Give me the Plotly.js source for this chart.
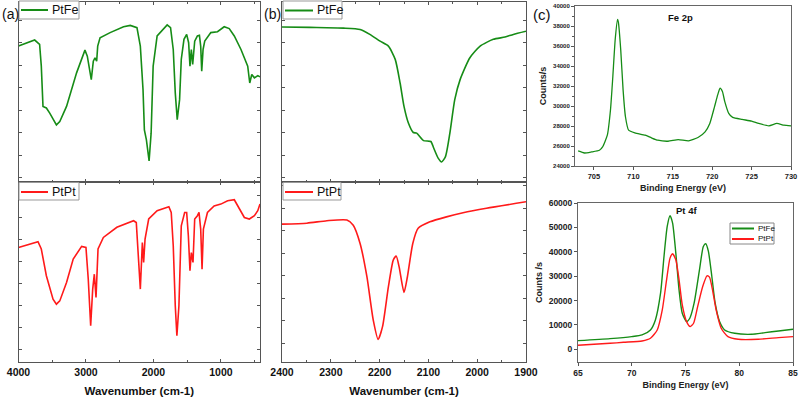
<!DOCTYPE html>
<html><head><meta charset="utf-8">
<script src="https://cdn.plot.ly/plotly-3.0.1.min.js"></script>
<style>html,body{margin:0;padding:0;background:#fff}#chart{width:800px;height:401px}</style>
</head><body><div id="chart"></div><script>
// (a) FTIR full range
const aWn_PtFe = [4000,3786,3760,3687,3662,3637,3587,3537,3438,3388,3288,3139,3015,2980,2950,2921,2891,2866,2841,2826,2791,2642,2443,2343,2244,2194,2154,2134,2104,2064,2034,2004,1945,1796,1746,1706,1676,1647,1612,1587,1547,1507,1478,1458,1438,1418,1388,1348,1318,1299,1284,1264,1239,1149,1050,951,876,801,702,602,572,542,503,453,420];
const aT_PtFe = [58.4,60.6,61.1,59.2,49.5,31.6,30.9,28.6,23.4,24.9,31.6,46.5,56.6,53.9,48,43.5,51.7,53.2,51.7,58.4,62.1,64.4,67,67.6,66.6,58.4,39,21.2,16.7,7.4,19.7,49.5,62.9,67.8,66.6,56.9,37.6,25.7,34.6,52.5,61.4,63.6,59.9,49.5,56.9,50.2,60.6,62.9,63.2,58.4,47.2,56.9,60.6,64.4,64.8,67,66.2,62.9,56.9,49.5,42,45.8,44.3,45.3,44.7];
const aWn_PtPt = [4000,3711,3662,3587,3488,3438,3388,3288,3189,3064,3000,2966,2930,2900,2876,2851,2821,2742,2542,2294,2254,2224,2194,2164,2145,2124,2070,1945,1771,1736,1706,1676,1652,1622,1587,1537,1507,1482,1458,1438,1413,1388,1348,1324,1299,1279,1259,1199,1100,1000,900,801,727,652,578,503,453,420];
const aT_PtPt = [46.4,49,45.7,33.5,22.8,20.5,22,30.4,41.1,46.9,46.4,32,10.7,27.4,34.2,23.6,45.7,51,55.6,58.6,57.8,42.6,27.4,48.7,39.6,50.2,59.4,63.2,65,62.4,47.2,19.8,6.1,19.8,56.3,62.4,62.4,51.7,35.8,44.1,39.6,59.4,60.9,62.4,54.8,36.5,54.8,62.4,65.4,66.2,67.7,68.2,63.9,60.1,59.4,60.9,63.2,66.2];
// (b) FTIR CO region
const bWn_PtFe = [2400,2343,2274,2240,2220,2199,2182,2168,2158,2150,2141,2131,2124,2110,2095,2089,2080,2073,2065,2056,2046,2035,2015,1994,1967,1943,1926,1900];
const bT_PtFe = [66.9,66.7,66.4,65.8,63.6,60.6,58.4,52.5,42,31.6,24.2,20,19.7,16.4,16,13,8.6,6.9,9.3,19.7,34.6,43.5,53.2,58.4,61.4,62.4,63.6,65];
const bWn_PtPt = [2400,2349,2308,2267,2254,2240,2226,2213,2203,2194,2182,2172,2166,2160,2150,2143,2132,2121,2097,2063,2029,1981,1900];
const bT_PtPt = [52.9,53.3,54.4,54.7,52.4,44.3,29.5,10.2,1.6,7.3,25,36.9,38.7,33.9,22.5,29.5,44.3,51,53.9,56.1,57.9,59.9,62.8];
// (c) XPS Fe 2p
const feBE = [703,703.8,704.7,705.7,706.1,706.7,707.1,707.4,707.7,708.0,708.1,708.4,708.7,709.0,709.4,710.2,711.5,712.3,713.1,714.4,715.7,717.0,718.2,719.1,719.7,720.3,720.7,721.0,721.3,721.6,722.1,722.6,723.8,725.0,725.9,727.2,728.2,729.1,730];
const feCounts = [25503,25302,25403,25570,25906,27081,29597,32953,36644,38658,38389,35638,31611,28926,27584,27315,27081,26812,26577,26477,26644,26510,26846,27416,28255,29933,31107,31779,31443,30436,29262,28859,28658,28490,28255,28020,28255,28087,28020];
// (c) XPS Pt 4f
const ptBE_PtFe = [65,67.98,70.0,70.96,71.74,72.2,72.68,73.0,73.3,73.56,73.8,74.1,74.4,74.7,75.1,75.4,75.8,76.3,76.66,76.88,77.13,77.45,77.76,78.17,78.64,79.58,81.14,82.4,83.65,85];
const ptCounts_PtFe = [3562,4384,5205,5890,7945,12055,23014,38082,50411,54795,51781,39452,24384,14795,11370,12740,18904,32603,42192,43288,40137,29863,18904,11370,7945,6575,6164,6849,7534,8219];
const ptBE_PtPt = [65,67.98,69.23,70.96,71.74,72.37,72.84,73.24,73.56,73.8,74.1,74.4,74.7,75.1,75.44,75.75,76.13,76.6,77.0,77.23,77.54,77.85,78.32,78.95,79.9,81.77,83.65,85];
const ptCounts_PtPt = [1644,2466,2877,3425,4521,7945,16164,28493,37397,39178,36712,28493,18219,11370,9315,10685,17534,25753,30137,29589,23699,16164,8630,5205,4110,4110,4795,5205];
const seriesNames = ['PtFe','PtPt'];

const GREEN = '#168c16', RED = '#ff1a1a';
const FF = 'Liberation Sans, Arial, sans-serif';
const W = 800, H = 401;
const px = v => v / W, py = v => 1 - v / H;

const frameIR = {showline:true, linecolor:'#555', linewidth:1, mirror:'ticks', ticks:'inside', ticklen:3, tickcolor:'#555', showgrid:false, zeroline:false, fixedrange:true};
const frameXPS = {showline:true, linecolor:'#666', linewidth:1, mirror:true, ticks:'outside', ticklen:3, tickcolor:'#555', showgrid:false, zeroline:false, fixedrange:true, tickformat:'d'};
const tickIR = {family:FF, size:10.5, color:'#111', weight:'bold'};

const traces = [
  {x:aWn_PtFe, y:aT_PtFe, xaxis:'x', yaxis:'y', name:seriesNames[0], mode:'lines', line:{color:GREEN, width:1.6}},
  {x:aWn_PtPt, y:aT_PtPt, xaxis:'x2', yaxis:'y2', name:seriesNames[1], mode:'lines', line:{color:RED, width:1.6}},
  {x:bWn_PtFe, y:bT_PtFe, xaxis:'x3', yaxis:'y3', name:seriesNames[0], mode:'lines', line:{color:GREEN, width:1.6, shape:'spline', smoothing:0.6}},
  {x:bWn_PtPt, y:bT_PtPt, xaxis:'x4', yaxis:'y4', name:seriesNames[1], mode:'lines', line:{color:RED, width:1.6, shape:'spline', smoothing:0.6}},
  {x:feBE, y:feCounts, xaxis:'x5', yaxis:'y5', name:'Fe 2p', mode:'lines', line:{color:GREEN, width:1.3, shape:'spline', smoothing:0.5}},
  {x:ptBE_PtFe, y:ptCounts_PtFe, xaxis:'x6', yaxis:'y6', name:seriesNames[0], mode:'lines', line:{color:GREEN, width:1.4, shape:'spline', smoothing:0.6}},
  {x:ptBE_PtPt, y:ptCounts_PtPt, xaxis:'x6', yaxis:'y6', name:seriesNames[1], mode:'lines', line:{color:RED, width:1.4, shape:'spline', smoothing:0.6}}
];

// compact legend boxes (drawn as in the original figure)
const shapes = [], annotations = [];
function legendBox(x0, y0, x1, y1, items, lineLen, fontSize, border) {
  shapes.push({type:'rect', xref:'paper', yref:'paper', x0:px(x0), x1:px(x1), y0:py(y1), y1:py(y0), line:{color:border, width:1}, fillcolor:'#fff', layer:'above'});
  items.forEach(it => {
    shapes.push({type:'line', xref:'paper', yref:'paper', x0:px(x0+2), x1:px(x0+2+lineLen), y0:py(it.y), y1:py(it.y), line:{color:it.color, width:2}, layer:'above'});
    annotations.push({text:it.name, x:px(x0+4+lineLen), y:py(it.y), xref:'paper', yref:'paper', xanchor:'left', yanchor:'middle', showarrow:false, font:{family:FF, size:fontSize, color:'#111'}});
  });
}
legendBox(19, 1, 79, 19, [{name:seriesNames[0], color:GREEN, y:10}], 27, 12.5, '#999');
legendBox(19, 182.5, 79, 200, [{name:seriesNames[1], color:RED, y:192}], 27, 12.5, '#999');
legendBox(283, 1, 342, 19, [{name:seriesNames[0], color:GREEN, y:10.5}], 28, 12.5, '#999');
legendBox(283, 182.5, 341, 200, [{name:seriesNames[1], color:RED, y:192}], 28, 12.5, '#999');
legendBox(730, 223, 774, 244, [{name:seriesNames[0], color:GREEN, y:228.5}, {name:seriesNames[1], color:RED, y:239}], 22, 8, '#888');

const xTitleIR = {text:'Wavenumber (cm-1)', font:{family:FF, size:11.5, color:'#111', weight:'bold'}, standoff:10};
const xpsTitleFont = {family:FF, size:9, color:'#222', weight:'bold'};

annotations.push(
  {text:'(a)', x:px(0), y:py(14), xref:'paper', yref:'paper', xanchor:'left', yanchor:'middle', showarrow:false, font:{family:FF, size:14, color:'#111'}},
  {text:'(b)', x:px(262), y:py(14), xref:'paper', yref:'paper', xanchor:'left', yanchor:'middle', showarrow:false, font:{family:FF, size:14, color:'#111'}},
  {text:'(c)', x:px(531), y:py(14), xref:'paper', yref:'paper', xanchor:'left', yanchor:'middle', showarrow:false, font:{family:FF, size:15, color:'#111'}},
  {text:'Fe 2p', x:px(680), y:py(17), xref:'paper', yref:'paper', xanchor:'center', yanchor:'middle', showarrow:false, font:{family:FF, size:9.5, color:'#111', weight:'bold'}},
  {text:'Pt 4f', x:px(686), y:py(210), xref:'paper', yref:'paper', xanchor:'center', yanchor:'middle', showarrow:false, font:{family:FF, size:9.5, color:'#111', weight:'bold'}}
);

const layout = {
  width:W, height:H, margin:{l:0,r:0,t:0,b:0}, paper_bgcolor:'#fff', plot_bgcolor:'#fff', showlegend:false,
  xaxis: Object.assign({}, frameIR, {domain:[px(18.5),px(260)], range:[4000,420], anchor:'y', dtick:1000, showticklabels:false, minor:{dtick:500, ticks:'inside', ticklen:2, tickcolor:'#555'}}),
  yaxis: Object.assign({}, frameIR, {domain:[py(182),py(2)], range:[-2,78], anchor:'x', dtick:10, tick0:0, showticklabels:false}),
  xaxis2: Object.assign({}, frameIR, {domain:[px(18.5),px(260)], range:[4000,420], anchor:'y2', dtick:1000, tickfont:tickIR, minor:{dtick:500, ticks:'inside', ticklen:2, tickcolor:'#555'}, title:xTitleIR}),
  yaxis2: Object.assign({}, frameIR, {domain:[py(362),py(182)], range:[-5.9,76.3], anchor:'x2', dtick:10, tick0:0, showticklabels:false}),
  xaxis3: Object.assign({}, frameIR, {domain:[px(282),px(526)], range:[2400,1900], anchor:'y3', dtick:100, showticklabels:false, minor:{dtick:50, ticks:'inside', ticklen:2, tickcolor:'#555'}}),
  yaxis3: Object.assign({}, frameIR, {domain:[py(182),py(2)], range:[-2,78], anchor:'x3', dtick:10, tick0:0, showticklabels:false}),
  xaxis4: Object.assign({}, frameIR, {domain:[px(282),px(526)], range:[2400,1900], anchor:'y4', dtick:100, tickfont:tickIR, minor:{dtick:50, ticks:'inside', ticklen:2, tickcolor:'#555'}, title:xTitleIR}),
  yaxis4: Object.assign({}, frameIR, {domain:[py(362),py(182)], range:[-8.4,71.6], anchor:'x4', dtick:10, tick0:0, showticklabels:false}),
  xaxis5: Object.assign({}, frameXPS, {domain:[px(575),px(791)], range:[702.6,730], anchor:'y5', dtick:5, tick0:705,
    tickfont:{family:FF, size:7.5, color:'#222', weight:'bold'},
    title:{text:'Binding Energy (eV)', font:xpsTitleFont, standoff:4}}),
  yaxis5: Object.assign({}, frameXPS, {domain:[py(166),py(6)], range:[24000,40000], anchor:'x5', dtick:2000,
    tickfont:{family:FF, size:6, color:'#222', weight:'bold'}, minor:{dtick:1000, ticks:'outside', ticklen:2, tickcolor:'#555'},
    title:{text:'Counts/s', font:xpsTitleFont, standoff:4}}),
  xaxis6: Object.assign({}, frameXPS, {domain:[px(578),px(793)], range:[65,85], anchor:'y6', dtick:5,
    tickfont:{family:FF, size:8.5, color:'#222', weight:'bold'},
    title:{text:'Binding Energy (eV)', font:xpsTitleFont, standoff:4}}),
  yaxis6: Object.assign({}, frameXPS, {domain:[py(362),py(203)], range:[-5200,60000], anchor:'x6', dtick:10000,
    tickfont:{family:FF, size:8.5, color:'#222', weight:'bold'},
    title:{text:'Counts /s', font:xpsTitleFont, standoff:4}}),
  shapes: shapes,
  annotations: annotations
};

Plotly.newPlot('chart', traces, layout, {staticPlot:true, displayModeBar:false});
</script></body></html>
